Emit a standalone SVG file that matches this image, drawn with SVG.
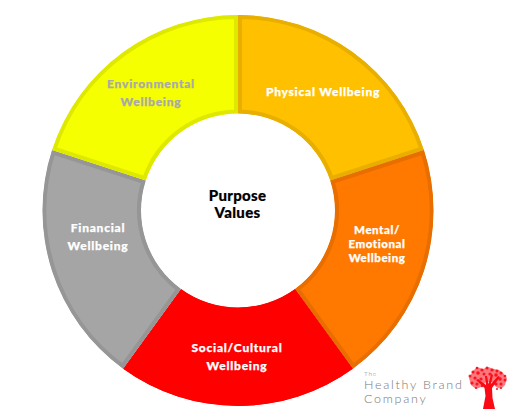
<svg xmlns="http://www.w3.org/2000/svg" width="516" height="419" viewBox="0 0 516 419">
<style>
.lab{font-family:"Lato","Liberation Sans",sans-serif;font-weight:900;font-size:12px;text-anchor:middle;letter-spacing:.75px;fill:#fff;stroke:#fff;stroke-width:.25px}
.grey{fill:#a9a9a9;stroke:#a9a9a9}
.mid{font-size:11.5px;letter-spacing:.55px}
.ctr{font-family:"Lato","Liberation Sans",sans-serif;font-weight:900;font-size:15px;letter-spacing:.3px;text-anchor:middle;fill:#000;stroke:#000;stroke-width:.2px}
.seg{stroke-width:8}
.logo{font-family:"Lato","Liberation Sans",sans-serif;font-weight:300;fill:#777;letter-spacing:1.75px;font-size:12.5px}
</style>
<defs>
<path id="p1" d="M238 15A195.5 195.5 0 0 1 423.93 150.09L330.25 180.53A97 97 0 0 0 238 113.5Z"/>
<path id="p2" d="M423.93 150.09A195.5 195.5 0 0 1 352.91 368.66L295.02 288.97A97 97 0 0 0 330.25 180.53Z"/>
<path id="p3" d="M352.91 368.66A195.5 195.5 0 0 1 123.09 368.66L180.98 288.97A97 97 0 0 0 295.02 288.97Z"/>
<path id="p4" d="M123.09 368.66A195.5 195.5 0 0 1 52.07 150.09L145.75 180.53A97 97 0 0 0 180.98 288.97Z"/>
<path id="p5" d="M52.07 150.09A195.5 195.5 0 0 1 238 15L238 113.5A97 97 0 0 0 145.75 180.53Z"/>
<clipPath id="c1"><use href="#p1"/></clipPath>
<clipPath id="c2"><use href="#p2"/></clipPath>
<clipPath id="c3"><use href="#p3"/></clipPath>
<clipPath id="c4"><use href="#p4"/></clipPath>
<clipPath id="c5"><use href="#p5"/></clipPath>
</defs>
<rect width="516" height="419" fill="#fff"/>
<g id="physical"><use href="#p1" class="seg" fill="#ffc000" stroke="#e8ae00" clip-path="url(#c1)"/><text class="lab" x="323" y="96">Physical Wellbeing</text></g>
<g id="mental"><use href="#p2" class="seg" fill="#ff7900" stroke="#e86e00" clip-path="url(#c2)"/><text class="lab mid" x="377" y="234">Mental/</text><text class="lab mid" x="377" y="248">Emotional</text><text class="lab mid" x="377" y="262">Wellbeing</text></g>
<g id="social"><use href="#p3" class="seg" fill="#ff0000" stroke="#ff0000" clip-path="url(#c3)"/><text class="lab" x="237" y="352">Social/Cultural</text><text class="lab" x="237" y="370">Wellbeing</text></g>
<g id="financial"><use href="#p4" class="seg" fill="#a5a5a5" stroke="#969696" clip-path="url(#c4)"/><text class="lab" x="98" y="232">Financial</text><text class="lab" x="98" y="250">Wellbeing</text></g>
<g id="environmental"><use href="#p5" class="seg" fill="#f5ff00" stroke="#dfe800" clip-path="url(#c5)"/><text class="lab grey" x="151" y="88">Environmental</text><text class="lab grey" x="151" y="106">Wellbeing</text></g>
<g id="center"><text class="ctr" x="237.500" y="201">Purpose</text><text class="ctr" x="237.500" y="218">Values</text></g>
<g id="logo">
<text class="logo" x="364" y="376" style="font-size:6.500px;letter-spacing:.7px">The</text>
<text class="logo" x="364" y="389">Healthy Brand</text>
<text class="logo" x="364" y="403">Company</text>
<g id="tree" fill="#fa0a14">
<path d="M483 409L485.500 396L484.500 388L476 380L478 379L486 385L485 376L487 376L488.500 384L491 374L493 375L491 384L498 376L500 377L492 388L492.500 398L495 409Z"/>
<path opacity=".55" d="M469 378L473 371L477 367L483 369L488 367L494 369L499 370L503 373L507 378L505 385L501 389L496 387L492 382L486 382L481 387L476 389L471 385Z"/>
<g opacity=".9">
<circle cx="477" cy="368" r="1.300"/><circle cx="482" cy="370" r="1.600"/><circle cx="487" cy="368" r="1.500"/><circle cx="492" cy="370" r="1.600"/><circle cx="497" cy="371" r="1.500"/><circle cx="473" cy="372" r="1.600"/><circle cx="478" cy="373" r="1.800"/><circle cx="484" cy="374" r="1.500"/><circle cx="490" cy="374" r="1.600"/><circle cx="496" cy="375" r="1.800"/><circle cx="501" cy="373" r="1.600"/><circle cx="505" cy="376" r="1.300"/><circle cx="470" cy="376" r="1.500"/><circle cx="475" cy="378" r="1.600"/><circle cx="481" cy="379" r="1.600"/><circle cx="500" cy="379" r="1.800"/><circle cx="505" cy="380" r="1.500"/><circle cx="472" cy="383" r="1.600"/><circle cx="477" cy="384" r="1.500"/><circle cx="482" cy="386" r="1.200"/><circle cx="496" cy="384" r="1.600"/><circle cx="501" cy="384" r="1.500"/><circle cx="476" cy="388" r="1.100"/><circle cx="497" cy="389" r="1.100"/><circle cx="501" cy="388" r="1"/>
</g>
</g>
</g>
</svg>
